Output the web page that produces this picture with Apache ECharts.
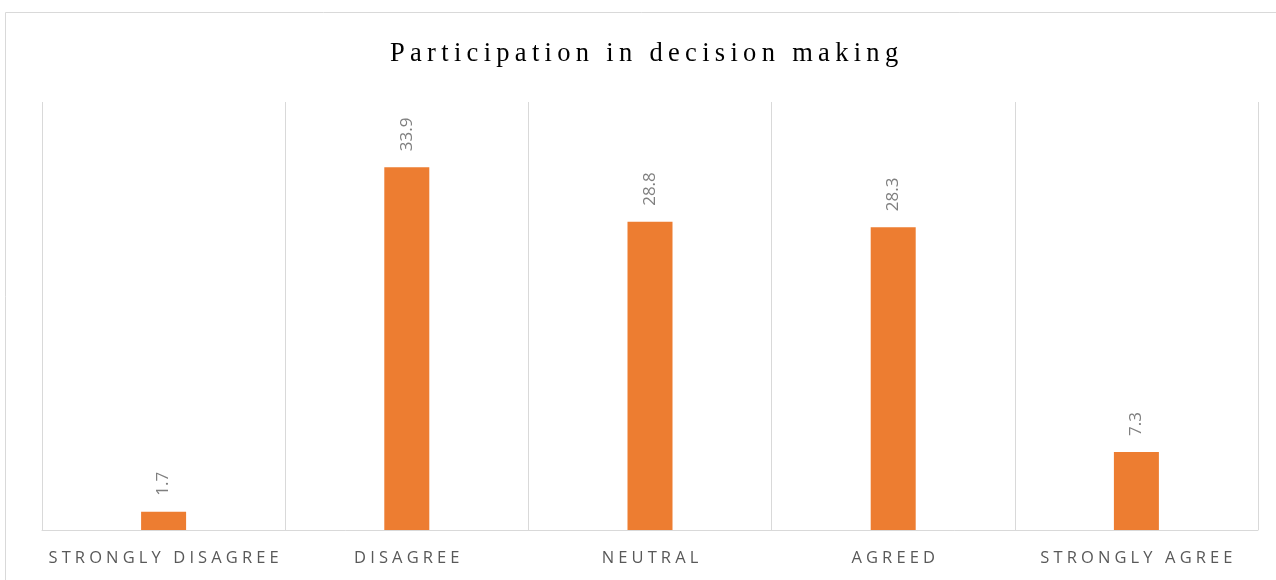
<!DOCTYPE html>
<html><head><meta charset="utf-8">
<script src="https://cdn.jsdelivr.net/npm/echarts@6/dist/echarts.min.js"></script>
<style>html,body{margin:0;padding:0;background:#fff}#c{width:1276px;height:580px}</style>
</head><body><div id="c"></div>
<script>
const title = 'Participation in decision making';
const categories = ['STRONGLY DISAGREE', 'DISAGREE', 'NEUTRAL', 'AGREED', 'STRONGLY AGREE'];
const values = [1.7, 33.9, 28.8, 28.3, 7.3];

function spaced(s, sp) { return s.split('').join(sp); }

const chart = echarts.init(document.getElementById('c'), null, {renderer: 'canvas'});
chart.setOption({
  animation: false,
  backgroundColor: '#fff',
  graphic: [{
    type: 'rect', shape: {x: 5.5, y: 12.5, width: 1300, height: 600},
    style: {fill: 'none', stroke: '#d9d9d9', lineWidth: 1}, silent: true, z: -1
  }],
  title: {
    text: spaced(title, '\u2009'),
    left: 385, top: 36,
    textStyle: {fontFamily: 'Liberation Serif', fontWeight: 'normal', fontSize: 26.5, color: '#000'}
  },
  grid: {left: 42, right: 18, top: 102, bottom: 50},
  xAxis: {
    type: 'category', data: categories, boundaryGap: true,
    axisLine: {lineStyle: {color: '#d9d9d9', width: 1}},
    axisTick: {show: false},
    splitLine: {show: true, lineStyle: {color: '#d9d9d9', width: 1}},
    axisLabel: {
      interval: 0, margin: 20, color: '#595959', fontSize: 16.5, fontFamily: 'Open Sans',
      formatter: v => spaced(v, '\u2005')
    }
  },
  yAxis: {type: 'value', min: 0, max: 40, show: false, splitLine: {show: false}},
  series: [{
    type: 'bar', data: values, barWidth: 45,
    itemStyle: {color: '#ED7D31'},
    label: {
      show: true, position: 'top', rotate: 90, align: 'left', verticalAlign: 'middle',
      distance: 16, color: '#7f7f7f', fontSize: 17, fontFamily: 'Open Sans'
    }
  }]
});
</script></body></html>
